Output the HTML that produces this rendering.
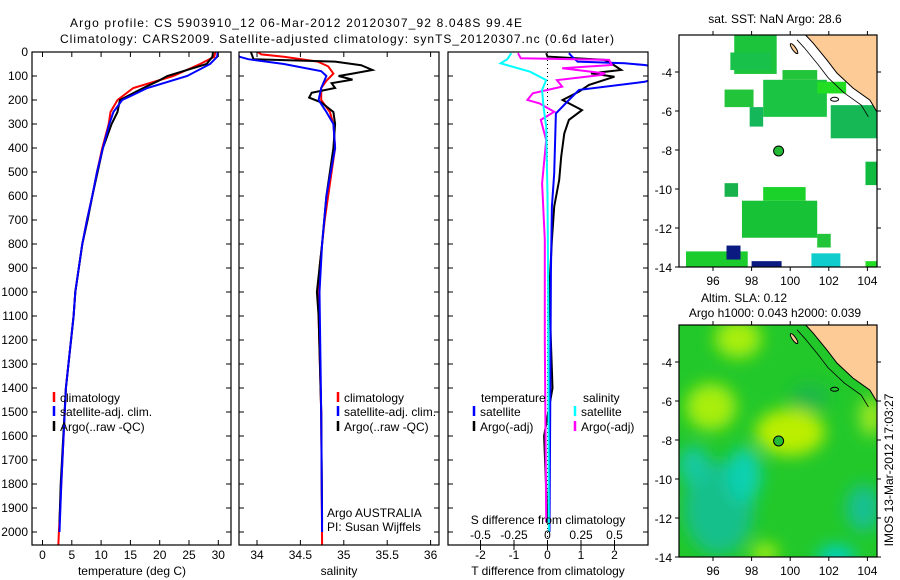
<!DOCTYPE html>
<html><head><meta charset="utf-8">
<style>
html,body{margin:0;padding:0;background:#fff;}
svg{display:block;font-family:"Liberation Sans",Arial,sans-serif;}
text{font-size:12px;fill:#000;}
</style></head>
<body>
<svg id="fig" width="900" height="580" viewBox="0 0 900 580" xmlns="http://www.w3.org/2000/svg">
<defs>
  <clipPath id="c1"><rect x="32" y="52" width="199" height="493"/></clipPath>
  <clipPath id="c2"><rect x="239" y="52" width="200" height="493"/></clipPath>
  <clipPath id="c3"><rect x="448" y="52" width="200" height="493"/></clipPath>
  <clipPath id="cm1"><rect x="679" y="35" width="198" height="232"/></clipPath>
  <clipPath id="cm2"><rect x="679" y="325" width="198" height="232"/></clipPath>
  <filter id="blur" x="-50%" y="-50%" width="200%" height="200%"><feGaussianBlur stdDeviation="8"/></filter>
</defs>
<text x="70" y="27" textLength="452">Argo profile: CS 5903910_12 06-Mar-2012 20120307_92 8.048S 99.4E</text>
<text x="60" y="43" textLength="554">Climatology: CARS2009. Satellite-adjusted climatology: synTS_20120307.nc (0.6d later)</text>
<g id="p1"></g>
<g id="p2"></g>
<g id="p3"></g>
<g id="m1"></g>
<g id="m2"></g>
<text x="775" y="23" text-anchor="middle">sat. SST: NaN Argo: 28.6</text>
<text x="744" y="302" text-anchor="middle">Altim. SLA: 0.12</text>
<text x="775" y="317" text-anchor="middle">Argo h1000: 0.043 h2000: 0.039</text>
<text transform="translate(893,470) rotate(-90)" text-anchor="middle">IMOS 13-Mar-2012 17:03:27</text>
</svg>
<script>
// ---- data ----
const depthTicks=[0,100,200,300,400,500,600,700,800,900,1000,1100,1200,1300,1400,1500,1600,1700,1800,1900,2000];
const tempTicks=[0,5,10,15,20,25,30];
const salTicks=[34,34.5,35,35.5,36];
const salTickLabels=["34","34.5","35","35.5","36"];
const tDiffTicks=[-2,-1,0,1,2];
const sDiffTicks=[-0.5,-0.25,0,0.25,0.5];
const sDiffTickLabels=["-0.5","-0.25","0","0.25","0.5"];
const lonTicks=[96,98,100,102,104];
const latTicks=[-4,-6,-8,-10,-12,-14];

const tempClimDepth=[0,20,50,100,150,200,250,300,400,500,600,700,800,900,1000,1100,1400,1800,2000,2060];
const tempClim=[29.5,29.3,26.9,22.3,15.5,12.8,11.6,11.3,10.2,9.3,8.5,7.6,6.8,6.2,5.6,5.3,4.0,3.2,2.8,2.7];
const tempSatDepth=[0,20,50,100,150,200,250,300,400,500,600,700,800,900,1000,1100,1400,1800,2000];
const tempSat=[29.9,29.8,28.6,24.7,17.9,13.6,12.1,11.4,10.3,9.3,8.5,7.6,6.8,6.2,5.6,5.3,4.0,3.2,2.9];
const tempArgoDepth=[0,20,50,100,120,150,200,250,300,400,500,600,700,800,900,1000,1100,1400,1800,1960];
const tempArgo=[29.1,29.0,28.0,21.3,19.8,17.2,13.2,12.8,11.8,10.3,9.4,8.5,7.7,6.8,6.2,5.6,5.3,4.0,3.1,2.9];

const salClimDepth=[0,10,20,40,60,90,120,150,200,250,300,400,500,700,900,1100,1500,2060];
const salClim=[34.01,34.05,34.31,34.70,34.82,34.88,34.80,34.74,34.74,34.84,34.88,34.90,34.86,34.78,34.72,34.71,34.74,34.75];
const salSatDepth=[0,20,30,50,80,100,150,200,250,300,400,600,800,1000,1500,2000];
const salSat=[33.75,33.8,33.9,34.31,34.74,34.80,34.74,34.71,34.80,34.88,34.90,34.80,34.75,34.72,34.74,34.75];
const salArgoDepth=[0,30,40,55,75,90,100,115,130,150,170,190,210,250,300,400,500,600,800,1000,1100,1500,1960];
const salArgo=[33.93,33.96,34.9,35.2,35.33,35.1,34.94,35.1,34.86,34.9,34.63,34.6,34.74,34.88,34.9,34.88,34.84,34.8,34.75,34.69,34.71,34.74,34.75];

const tDiffArgoDepth=[5,19,33,47,75,89,103,137,165,200,242,283,339,436,533,644,783,1000,1400,1600,1960];
const tDiffArgo=[-0.04,0,1.7,1.9,2.2,1.3,2.0,1.24,0.94,0.45,1.03,0.64,0.5,0.41,0.35,0.2,0.13,0.05,0.15,-0.1,0.0];
const tDiffSatDepth=[5,19,40,47,54,80,124,158,200,256,506,644,922,1500,2000];
const tDiffSat=[0.64,0.73,0.9,2.3,2.9,4.0,2.9,0.94,0.64,0.25,0.2,0.13,0.1,0.08,0.06];
const sDiffSatDepth=[5,30,47,82,117,158,228,311,600,1000,2000];
const sDiffSat=[-0.27,-0.3,-0.35,-0.13,-0.01,-0.04,-0.03,-0.01,0,0.005,0.01];
const sDiffArgoDepth=[5,26,33,54,68,89,96,117,144,172,200,214,249,283,367,547,783,1200,1960];
const sDiffArgo=[-0.22,-0.2,0.46,0.48,0.11,0.43,0.40,0.07,0.11,-0.11,-0.15,-0.06,0.05,-0.05,-0.01,-0.04,-0.02,-0.02,-0.01];

const coastLon=[100.8,101.18,101.9,102.42,103.25,104.13,104.5];
const coastLat=[-2.1,-2.51,-3.38,-4.05,-4.82,-5.44,-6.05];
const argoLon=99.4, argoLat=-8.05;
// SST patches: lon0, lon1, lat0, lat1
const sstLon0=[97.1,96.9,98.6,99.6,96.6,97.9,101.4,102.1,103.9,96.6,97.5,98.6,101.4,94.6,101.1,103.9];
const sstLon1=[99.3,99.0,101.9,101.4,98.1,98.6,102.9,104.5,104.5,97.3,101.4,100.8,102.1,97.8,102.6,104.5];
const sstLat0=[-2.1,-3.0,-4.4,-3.9,-4.9,-5.8,-4.5,-5.7,-8.6,-9.7,-10.6,-9.9,-12.3,-13.2,-13.3,-13.7];
const sstLat1=[-4.1,-3.9,-6.3,-4.4,-5.8,-6.8,-5.1,-7.4,-9.8,-10.4,-12.5,-10.6,-13.0,-14,-14,-14];
const sstColor=["#1cc43c","#18c24a","#1cc443","#22c43a","#22c43a","#14b85a","#22dd22","#16b855","#10bb40","#18b24c","#18c236","#1ad22a","#22c43a","#1ccc2c","#10cccc","#22dd22"];
// SLA blobs: lon, lat, rx(deg), ry(deg)
const slaLon=[97.3,95.9,100.0,104.2,98.7,96.3,97.6,103.8,102.4,101.0,95.0];
const slaLat=[-2.8,-6.3,-7.6,-6.8,-13.8,-11.5,-9.8,-11.5,-14.0,-5.8,-9.3];
const slaRx=[1.2,1.3,1.8,0.6,0.7,1.8,0.9,0.9,1.0,1.0,0.8];
const slaRy=[1.0,1.2,1.2,1.0,0.5,2.4,1.4,1.2,0.6,0.7,1.0];
const slaColor=["#a8ee10","#a8ee10","#bbee00","#a0e820","#a8ee10","#18c08a","#10d0b0","#18c090","#00d0c0","#1cb848","#18c8a0"];

// ---- helpers ----
const NS="http://www.w3.org/2000/svg";
function mk(tag,attrs,parent){const e=document.createElementNS(NS,tag);for(const k in attrs)e.setAttribute(k,attrs[k]);parent.appendChild(e);return e;}
const depthY=d=>52+d*0.24;
const tempX=t=>42.5+t*5.86;
const salX=s=>257+(s-34)*86.8;
const tdX=t=>547.5+t*33.5;
const sdX=s=>547.5+s*134;
const lonX=l=>713+(l-96)*19.3;
const latY1=l=>72+(-4-l)*19.5;
const latY2=l=>362+(-4-l)*19.5;

function line(parent,xs,ys,color,clip,name,w){
  let d="";for(let i=0;i<xs.length;i++)d+=(i?"L":"M")+xs[i].toFixed(1)+","+ys[i].toFixed(1);
  const p=mk("path",{d:d,fill:"none",stroke:color,"stroke-width":w||2,"clip-path":"url(#"+clip+")"},parent);
  
  
  return p;
}
function frame(parent,x0,y0,x1,y1,name){
  const r=mk("rect",{x:x0,y:y0,width:x1-x0,height:y1-y0,fill:"none",stroke:"#000","stroke-width":1.2},parent);
  
  
}
function txt(parent,x,y,s,anchor,name){
  const t=mk("text",{x:x,y:y,"text-anchor":anchor||"start"},parent);t.textContent=s;
  
  
  return t;
}
function yticks(parent,x0,x1,labels){
  depthTicks.forEach(d=>{const y=depthY(d);
    mk("line",{x1:x0,y1:y,x2:x0+5,y2:y,stroke:"#000"},parent);
    mk("line",{x1:x1,y1:y,x2:x1-5,y2:y,stroke:"#000"},parent);
    if(labels){txt(parent,28,y+4,String(d),"end","depth-tick-label");}
  });
}
function xticks(parent,vals,fx,labels,ylab){
  vals.forEach((v,i)=>{const x=fx(v);
    mk("line",{x1:x,y1:545,x2:x,y2:540,stroke:"#000"},parent);
    mk("line",{x1:x,y1:52,x2:x,y2:57,stroke:"#000"},parent);
    txt(parent,x,ylab,labels[i],"middle","x-tick-label");
  });
}
function legend(parent,x,y,color,label){
  mk("line",{x1:x,y1:y-10,x2:x,y2:y,stroke:color,"stroke-width":2.5},parent);
  txt(parent,x+6,y,label,"start","legend-entry");
}

// ---- panel 1 temperature ----
const p1=document.getElementById("p1");
line(p1,tempClimDepth.map((d,i)=>tempX(tempClim[i])),tempClimDepth.map(depthY),"#f00","c1","temp-climatology-line");
line(p1,tempArgoDepth.map((d,i)=>tempX(tempArgo[i])),tempArgoDepth.map(depthY),"#000","c1","temp-argo-line");
line(p1,tempSatDepth.map((d,i)=>tempX(tempSat[i])),tempSatDepth.map(depthY),"#00f","c1","temp-satellite-line");
frame(p1,32,52,231,545,"temperature-frame");
yticks(p1,32,231,true);
xticks(p1,tempTicks,tempX,tempTicks.map(String),559);
txt(p1,132,575,"temperature (deg C)","middle","temperature-axis-title");
legend(p1,54,402,"#f00","climatology");
legend(p1,54,416,"#00f","satellite-adj. clim.");
legend(p1,54,431,"#000","Argo(..raw -QC)");

// ---- panel 2 salinity ----
const p2=document.getElementById("p2");
line(p2,salClimDepth.map((d,i)=>salX(salClim[i])),salClimDepth.map(depthY),"#f00","c2","sal-climatology-line");
line(p2,salArgoDepth.map((d,i)=>salX(salArgo[i])),salArgoDepth.map(depthY),"#000","c2","sal-argo-line");
line(p2,salSatDepth.map((d,i)=>salX(salSat[i])),salSatDepth.map(depthY),"#00f","c2","sal-satellite-line");
frame(p2,239,52,439,545,"salinity-frame");
yticks(p2,239,439,false);
xticks(p2,salTicks,salX,salTickLabels,559);
txt(p2,339,575,"salinity","middle","salinity-axis-title");
legend(p2,338,402,"#f00","climatology");
legend(p2,338,416,"#00f","satellite-adj. clim.");
legend(p2,338,431,"#000","Argo(..raw -QC)");
txt(p2,327,517,"Argo AUSTRALIA","start","float-owner");
txt(p2,327,531,"PI: Susan Wijffels","start","float-pi");

// ---- panel 3 differences ----
const p3=document.getElementById("p3");
mk("line",{x1:tdX(0),y1:52,x2:tdX(0),y2:545,stroke:"#000","stroke-dasharray":"1,3"},p3);
line(p3,tDiffArgoDepth.map((d,i)=>tdX(tDiffArgo[i])),tDiffArgoDepth.map(depthY),"#000","c3","tdiff-argo-line");
line(p3,tDiffSatDepth.map((d,i)=>tdX(tDiffSat[i])),tDiffSatDepth.map(depthY),"#00f","c3","tdiff-satellite-line");
line(p3,sDiffArgoDepth.map((d,i)=>sdX(sDiffArgo[i])),sDiffArgoDepth.map(depthY),"#f0f","c3","sdiff-argo-line");
line(p3,sDiffSatDepth.map((d,i)=>sdX(sDiffSat[i])),sDiffSatDepth.map(depthY),"#0ff","c3","sdiff-satellite-line");
frame(p3,448,52,648,545,"difference-frame");
yticks(p3,448,648,false);
tDiffTicks.forEach(v=>{const x=tdX(v);mk("line",{x1:x,y1:545,x2:x,y2:550,stroke:"#000"},p3);txt(p3,x,559,String(v),"middle","tdiff-tick-label");});
sDiffTicks.forEach((v,i)=>{const x=sdX(v);mk("line",{x1:x,y1:545,x2:x,y2:540,stroke:"#000"},p3);txt(p3,x,539,sDiffTickLabels[i],"middle","sdiff-tick-label");});
txt(p3,548,524,"S difference from climatology","middle","sdiff-axis-title");
txt(p3,548,575,"T difference from climatology","middle","tdiff-axis-title");
txt(p3,481,402,"temperature","start","legend-header-temperature");
txt(p3,583,402,"salinity","start","legend-header-salinity");
legend(p3,474,416,"#00f","satellite");
legend(p3,474,431,"#000","Argo(-adj)");
legend(p3,575,416,"#0ff","satellite");
legend(p3,575,431,"#f0f","Argo(-adj)");

// ---- maps ----
function coast(parent,latY,clip){
  let d="M"+lonX(coastLon[0])+","+latY(-1.5);
  coastLon.forEach((l,i)=>{d+="L"+lonX(l).toFixed(1)+","+latY(coastLat[i]).toFixed(1);});
  d+="L"+lonX(105.5)+","+latY(-6.5)+"L"+lonX(105.5)+","+latY(-1.5)+"Z";
  const p=mk("path",{d:d,fill:"#fdcb96",stroke:"#000","stroke-width":1,"clip-path":"url(#"+clip+")"},parent);
  
  
  let d2="";coastLon.forEach((l,i)=>{d2+=(i?"L":"M")+lonX(l-0.45).toFixed(1)+","+latY(coastLat[i]-0.25).toFixed(1);});
  mk("path",{d:d2,fill:"none",stroke:"#000","stroke-width":0.8,"clip-path":"url(#"+clip+")"},parent);
  mk("ellipse",{cx:lonX(100.2),cy:latY(-2.8),rx:1.8,ry:6,fill:"#fdcb96",stroke:"#000",transform:"rotate(-35 "+lonX(100.2)+" "+latY(-2.8)+")","clip-path":"url(#"+clip+")"},parent);
  mk("ellipse",{cx:lonX(102.3),cy:latY(-5.4),rx:4,ry:2,fill:"none",stroke:"#000"},parent);
}
function mapAxes(parent,latY,top,name){
  frame(parent,679,top,877,top+232,name);
  lonTicks.forEach(l=>{const x=lonX(l);
    mk("line",{x1:x,y1:top,x2:x,y2:top-4,stroke:"#000"},parent);
    mk("line",{x1:x,y1:top+232,x2:x,y2:top+236,stroke:"#000"},parent);
    txt(parent,x,top+250,String(l),"middle","lon-tick-label");});
  latTicks.forEach(l=>{const y=latY(l);
    mk("line",{x1:679,y1:y,x2:675,y2:y,stroke:"#000"},parent);
    mk("line",{x1:877,y1:y,x2:881,y2:y,stroke:"#000"},parent);
    txt(parent,672,y+5,String(l),"end","lat-tick-label");});
  const c=mk("circle",{cx:lonX(argoLon),cy:latY(argoLat),r:5,fill:"#22bb33",stroke:"#000"},parent);
  
  
}
const m1=document.getElementById("m1");
sstLon0.forEach((l,i)=>{
  const r=mk("rect",{x:lonX(l),y:latY1(sstLat0[i]),width:lonX(sstLon1[i])-lonX(l),height:latY1(sstLat1[i])-latY1(sstLat0[i]),fill:sstColor[i],"clip-path":"url(#cm1)"},m1);
  
  
});
mk("rect",{x:lonX(96.7),y:latY1(-12.9),width:14,height:14,fill:"#0a1a80"},m1);
mk("rect",{x:lonX(98),y:latY1(-13.7),width:30,height:6,fill:"#0a1a80"},m1);
coast(m1,latY1,"cm1");
mapAxes(m1,latY1,35,"sst-map-frame");

const m2=document.getElementById("m2");
mk("rect",{x:679,y:325,width:198,height:232,fill:"#22c82a"},m2);
const g2=mk("g",{"clip-path":"url(#cm2)"},m2);
const gb=mk("g",{filter:"url(#blur)"},g2);
slaLon.forEach((l,i)=>{
  const e=mk("ellipse",{cx:lonX(l),cy:latY2(slaLat[i]),rx:slaRx[i]*19.3,ry:slaRy[i]*19.5,fill:slaColor[i]},gb);
  
  
});
coast(m2,latY2,"cm2");
mapAxes(m2,latY2,325,"sla-map-frame");
</script>
</body></html>
